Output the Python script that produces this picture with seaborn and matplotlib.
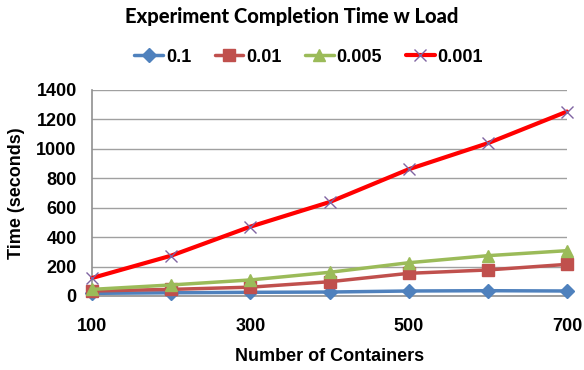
import matplotlib
matplotlib.use("Agg")
import matplotlib.pyplot as plt
import seaborn as sns
import pandas as pd

containers = [100, 200, 300, 400, 500, 600, 700]
s_01 = [18, 22, 25, 27, 34, 36, 34]
s_001 = [34, 45, 60, 97, 154, 177, 215]
s_0005 = [45, 75, 109, 161, 226, 274, 308]
s_0001 = [122, 274, 471, 638, 861, 1038, 1253]
series_names = ["0.1", "0.01", "0.005", "0.001"]
x_ticks = [100, 300, 500, 700]
y_ticks = [0, 200, 400, 600, 800, 1000, 1200, 1400]

sns.set_theme(style="white")
plt.rcParams['font.family'] = ['Liberation Sans', 'DejaVu Sans']
plt.rcParams['text.color'] = 'black'
plt.rcParams['axes.labelcolor'] = 'black'
plt.rcParams['xtick.color'] = 'black'
plt.rcParams['ytick.color'] = 'black'

fig = plt.figure(figsize=(5.84, 3.70), dpi=100)
ax = fig.add_axes([0.1575, 0.2, 0.8135, 0.557])

styles = [
    dict(color="#4F81BD", marker="D", ms=7, mfc="#4F81BD", mec="#4F81BD", mew=1),
    dict(color="#C0504D", marker="s", ms=8, mfc="#C0504D", mec="#C0504D", mew=1),
    dict(color="#9BBB59", marker="^", ms=9, mfc="#9BBB59", mec="#9BBB59", mew=1),
    dict(color="#FF0000", marker="x", ms=9, mfc="#8064A2", mec="#8064A2", mew=1),
]
widths = [2.5, 2.5, 2.5, 3.0]
data = [s_01, s_001, s_0005, s_0001]
for name, vals, st, w in zip(series_names, data, styles, widths):
    df = pd.DataFrame({"x": containers, "y": vals})
    sns.lineplot(data=df, x="x", y="y", ax=ax, label=name, lw=w,
                 color=st["color"], marker=st["marker"], markersize=st["ms"],
                 markerfacecolor=st["mfc"], markeredgecolor=st["mec"],
                 markeredgewidth=st["mew"], clip_on=False, zorder=3)

ax.set_xlim(100, 700)
ax.set_ylim(0, 1400)
ax.set_xticks(x_ticks)
ax.set_yticks(y_ticks)
ax.set_xticklabels([str(t) for t in x_ticks], fontweight="bold", fontsize=13)
ax.set_yticklabels([str(t) for t in y_ticks], fontweight="bold", fontsize=13)
ax.tick_params(axis="x", pad=16, length=0)
ax.tick_params(axis="y", pad=11, length=0)
ax.yaxis.grid(True, color="#A0A0A0", lw=1)
ax.set_axisbelow(True)
for s in ["top", "right"]:
    ax.spines[s].set_visible(False)
for s in ["left", "bottom"]:
    ax.spines[s].set_color("#909090")
    ax.spines[s].set_linewidth(1.2)

ax.set_xlabel("Number of Containers", fontweight="bold", fontsize=13, labelpad=9)
ax.set_ylabel("Time (seconds)", fontweight="bold", fontsize=13, labelpad=8)

fig.text(0.5, 1 - 16 / 370, "Experiment Completion Time w Load", fontweight="black",
         fontsize=14.5, ha="center", va="center", family=["Lato", "DejaVu Sans"])
leg = ax.legend(loc="center", ncol=4, frameon=False,
                prop={"weight": "bold", "size": 13}, handlelength=1.6,
                columnspacing=1.3, handletextpad=0.15)
leg.set_bbox_to_anchor((308.5 / 584, 1 - 57 / 370), transform=fig.transFigure)

fig.savefig("out.png", dpi=100)
